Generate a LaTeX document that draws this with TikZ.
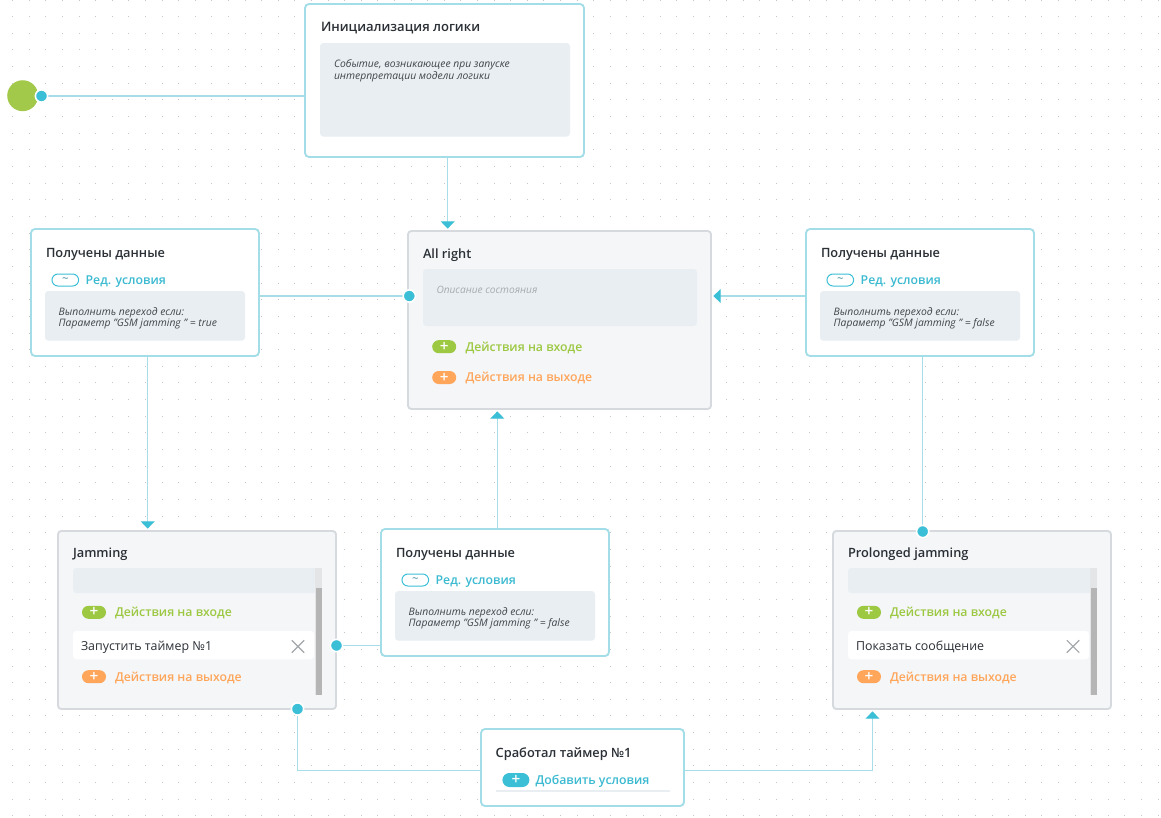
\documentclass[tikz,border=0pt]{standalone}
\usepackage{fontspec}
\setmainfont{Open Sans}
\newfontfamily\sbfont{Open Sans Semibold}
\usetikzlibrary{arrows.meta,calc}
\definecolor{gridc}{HTML}{C4C6C8}
\definecolor{transc}{HTML}{A3DDE8}
\definecolor{linec}{HTML}{A6DDE8}
\definecolor{dotc}{HTML}{3BBFD6}
\definecolor{statec}{HTML}{D6DADE}
\definecolor{statefill}{HTML}{F4F6F8}
\definecolor{innerc}{HTML}{E9EEF2}
\definecolor{darkc}{HTML}{2B3036}
\definecolor{condc}{HTML}{3E444A}
\definecolor{phc}{HTML}{A5ABB0}
\definecolor{greenc}{HTML}{9DC842}
\definecolor{orangec}{HTML}{FFA65B}
\definecolor{cyantext}{HTML}{3BBAD1}
\definecolor{tildec}{HTML}{3A8A9C}
\definecolor{startc}{HTML}{A2C94A}
\definecolor{trackc}{HTML}{E3E5E7}
\definecolor{thumbc}{HTML}{B5B5B5}
\definecolor{xc}{HTML}{A3A7AA}
\pgfdeclarelayer{bg}
\pgfdeclarelayer{cn}
\pgfsetlayers{bg,cn,main}
\begin{document}
\begin{tikzpicture}[x=0.75pt,y=-0.75pt,
  box/.style 2 args={minimum width=#1*0.75pt, minimum height=#2*0.75pt, inner sep=0pt, outer sep=0pt, anchor=north west},
  trans/.style={draw=transc, fill=white, line width=1.4pt, rounded corners=3pt},
  state/.style={draw=statec, fill=statefill, line width=1.4pt, rounded corners=2.5pt},
  innerbox/.style={fill=innerc, rounded corners=2.5pt},
  txt/.style={inner sep=0pt, outer sep=0pt, text height=0.66em, text depth=0pt, anchor=west},
  title/.style={txt, font=\sbfont\fontsize{9.6}{11}\selectfont, text=darkc},
  cond/.style={txt, font=\itshape\fontsize{7.75}{9}\selectfont, text=condc},
  ph/.style={txt, font=\itshape\fontsize{7.6}{9}\selectfont, text=phc},
  act/.style={txt, font=\sbfont\fontsize{9.2}{11}\selectfont},
  rowtxt/.style={txt, font=\fontsize{9.3}{11}\selectfont, text=darkc},
  pill/.style={minimum width=18pt, minimum height=9.75pt, rounded corners=4.875pt, inner sep=0pt, outer sep=0pt, text=white, font=\sbfont\fontsize{11.5}{10}\selectfont},
  opill/.style={minimum width=20pt, minimum height=9pt, rounded corners=4.5pt, inner sep=0pt, outer sep=0pt, draw=dotc, line width=0.75pt, fill=white, text=tildec, font=\fontsize{8.5}{8}\selectfont},
  dot/.style={circle, fill=dotc, draw=white, line width=1.2pt, minimum size=9.2pt, inner sep=0pt, outer sep=0pt},
  conn/.style={draw=linec, line width=0.9pt},
  arr/.style={-{Triangle[width=10.5pt,length=5.5pt,color=dotc]}, shorten >=1.8pt},
  xmark/.style={draw=xc, line width=0.9pt},
  uline/.style={draw=innerc, line width=1.2pt}
]
\useasboundingbox (0,0) rectangle (1161,818);
\begin{pgfonlayer}{bg}
\fill[white] (0,0) rectangle (1161,818);
\foreach \i in {0,...,69}{\foreach \j in {0,...,49}{%
  \fill[gridc] ({12.7+16.6*\i-0.5},{16.65*\j-0.5}) rectangle ++(1,1);}}
\end{pgfonlayer}

% ---------- boxes ----------
\node[trans, box={279}{153}] (init) at (305,4) {};
\node[state, box={303}{178}] (allright) at (408,231) {};
\node[trans, box={228}{127}] (tleft) at (31,229) {};
\node[trans, box={228}{127}] (tright) at (806,229) {};
\node[state, box={278}{178}] (jam) at (58,531) {};
\node[trans, box={228}{127}] (tmid) at (381,529) {};
\node[state, box={278}{178}] (prol) at (833,531) {};
\node[trans, box={203}{77}] (timer) at (481,729) {};

% ---------- init ----------
\fill[innerbox] (320,43) rectangle (570,136.5);
\node[title, font=\sbfont\fontsize{9.8}{11}\selectfont] (init-t) at (321,27.5) {Инициализация логики};
\node[cond] (init-c1) at (334,62.7) {Событие, возникающее при запуске};
\node[cond] (init-c2) at (334,74.7) {интерпретации модели логики};

% ---------- all right ----------
\fill[innerbox] (423,269) rectangle (697,326);
\node[title] (ar-t) at (423,254.5) {All right};
\node[ph] (ar-ph) at (436.5,288.7) {Описание состояния};
\node[pill, fill=greenc] (ar-p1) at (444.2,346.7) {+};
\node[act, text=greenc] (ar-a1) at (465.5,346.7) {Действия на входе};
\node[pill, fill=orangec] (ar-p2) at (444.2,377.5) {+};
\node[act, text=orangec] (ar-a2) at (465.5,377.5) {Действия на выходе};

% ---------- transitions "Получены данные" ----------
\foreach \nm/\dx/\dy/\val in {L/0/0/true, R/775/0/false, M/350/300/false}{
  \fill[innerbox] ({45+\dx},{291+\dy}) rectangle ({245+\dx},{340.7+\dy});
  \node[title] (t\nm-t) at ({46+\dx},{252.7+\dy}) {Получены данные};
  \node[opill] (t\nm-p) at ({65.3+\dx},{280+\dy}) {\raisebox{-0.2pt}{\symbol{126}}};
  \node[act, text=cyantext] (t\nm-e) at ({85.7+\dx},{280+\dy}) {Ред. условия};
  \node[cond] (t\nm-c1) at ({58.7+\dx},{310.7+\dy}) {Выполнить переход если:};
  \node[cond] (t\nm-c2) at ({58.7+\dx},{322.3+\dy}) {Параметр \symbol{34}GSM jamming \symbol{34} = \val};
}

% ---------- Jamming / Prolonged jamming ----------
\foreach \nm/\dx/\ttl/\row in {J/0/Jamming/Запустить таймер №1, P/775/Prolonged jamming/Показать сообщение}{
  \fill[innerc] ({73+\dx},{568}) [rounded corners=2.5pt] -- ({73+\dx},593) [sharp corners] -- ({315+\dx},593) -- ({315+\dx},568) [rounded corners=2.5pt] -- cycle;
  \fill[trackc] ({315+\dx},568) rectangle ({322+\dx},695);
  \fill[thumbc] ({315.5+\dx},588) rectangle ({321.5+\dx},695);
  \node[title] (s\nm-t) at ({73+\dx},553.5) {\ttl};
  \node[pill, fill=greenc] (s\nm-p1) at ({94+\dx},612.3) {+};
  \node[act, text=greenc] (s\nm-a1) at ({115+\dx},612.3) {Действия на входе};
  \fill[white, rounded corners=2.5pt] ({73+\dx},631) rectangle ({314+\dx},659.3);
  \node[rowtxt] (s\nm-r) at ({81+\dx},646) {\row};
  \draw[xmark] ({291.8+\dx},640.2) -- ({304.2+\dx},652.6) ({291.8+\dx},652.6) -- ({304.2+\dx},640.2);
  \node[pill, fill=orangec] (s\nm-p2) at ({94+\dx},676.7) {+};
  \node[act, text=orangec] (s\nm-a2) at ({115+\dx},676.7) {Действия на выходе};
}

% ---------- timer ----------
\node[title] (tm-t) at (495.7,753) {Сработал таймер №1};
\node[pill, fill=dotc, minimum width=20.2pt, minimum height=10.5pt, rounded corners=5.25pt] (tm-p) at (515.9,780) {+};
\node[act, text=cyantext] (tm-e) at (535.5,780) {Добавить условия};
\draw[uline] (495.7,791) -- (669.8,791);

% ---------- start + dots ----------
\node[circle, fill=startc, minimum size=23.2pt, inner sep=0pt] (start) at (22.7,95.7) {};
\node[dot] (sdot) at (41.5,96) {};
\node[dot] (d-ar) at (409.3,296) {};
\node[dot] (d-jr) at (336.5,645.5) {};
\node[dot] (d-jb) at (297.5,709) {};
\node[dot] (d-pt) at (922.7,531.5) {};

% ---------- connectors ----------
\coordinate (xa) at (447.7,0);
\coordinate (xl) at (147.7,0);
\coordinate (xm) at (497.3,0);
\coordinate (xp) at (872.5,0);
\coordinate (yt) at (0,770.3);
\coordinate (yr) at (0,296);
\begin{pgfonlayer}{cn}
\draw[conn] (sdot) -- (sdot -| init.west);
\draw[conn, arr] (init.south -| xa) -- (allright.north -| xa);
\draw[conn] (tleft.east |- d-ar) -- (d-ar);
\draw[conn, arr] (tright.west |- yr) -- (allright.east |- yr);
\draw[conn, arr] (tleft.south -| xl) -- (jam.north -| xl);
\draw[conn] (tright.south -| d-pt) -- (d-pt);
\draw[conn, arr] (tmid.north -| xm) -- (allright.south -| xm);
\draw[conn] (tmid.west |- d-jr) -- (d-jr);
\draw[conn] (d-jb) |- (timer.west |- yt);
\draw[conn, arr] (timer.east |- yt) -| (prol.south -| xp);
\end{pgfonlayer}
\end{tikzpicture}
\end{document}
